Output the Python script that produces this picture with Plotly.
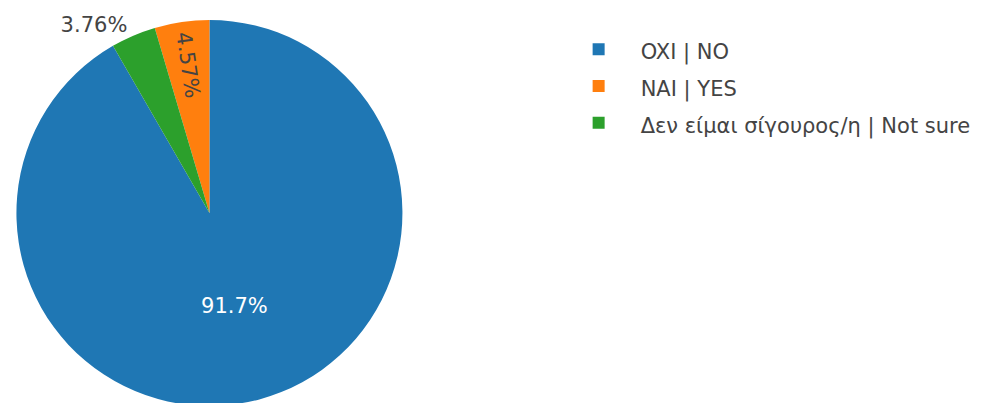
import plotly.graph_objects as go

labels = ["OXI | NO", "NAI | YES", "Δεν είμαι σίγουρος/η | Not sure"]
values = [91.67, 4.57, 3.76]
colors = ["#1f77b4", "#ff7f0e", "#2ca02c"]
text_positions = ["inside", "inside", "outside"]

font_family = "Verdana, DejaVu Sans, sans-serif"
text_size = 21

legend_labels = ['<span style="font-size:%dpx">%s</span>' % (text_size, l) for l in labels]

fig = go.Figure(
    go.Pie(
        labels=legend_labels,
        values=values,
        marker=dict(colors=colors),
        sort=True,
        direction="counterclockwise",
        rotation=0,
        textinfo="percent",
        textposition=text_positions,
        textfont=dict(size=text_size, family=font_family),
        domain=dict(x=[0.0, 0.392], y=[0, 1]),
        hoverinfo="label+percent",
    )
)

fig.update_layout(
    width=999,
    height=403,
    margin=dict(l=0, r=0, t=4, b=5),
    paper_bgcolor="white",
    plot_bgcolor="white",
    font=dict(family=font_family, size=text_size, color="#444"),
    legend=dict(
        x=0.546,
        xanchor="left",
        y=0.985,
        yanchor="top",
        itemwidth=74,
        font=dict(size=26, family=font_family, color="#444"),
    ),
)

fig.write_html("out.html")
